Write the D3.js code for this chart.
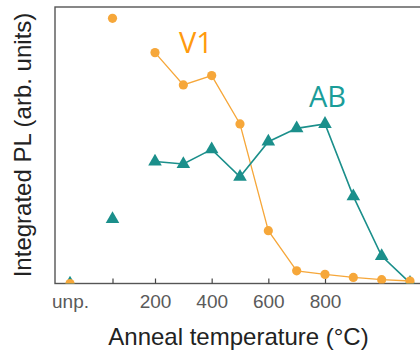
<!DOCTYPE html>
<html>
<head>
<meta charset="utf-8">
<script src="https://cdn.jsdelivr.net/npm/d3@7"></script>
<style>
  html, body { margin: 0; padding: 0; background: #fff; }
  svg { display: block; }
</style>
</head>
<body>
<svg id="chart" width="420" height="353"></svg>
<script>
// Anneal temperature (°C); "unp." (unprocessed) and the unlabeled as-implanted point sit left of 200
const temps = [-100, 50, 200, 300, 400, 500, 600, 700, 800, 900, 1000, 1100];
// Integrated PL (arb. units)
const v1Values = [0, 95.9, 83.5, 71.8, 75.2, 57.7, 19.1, 4.6, 3.3, 2.2, 1.4, 0.9];
const abValues = [0, 23.3, 44.1, 43.2, 48.5, 38.6, 51.3, 56.1, 57.7, 31.5, 9.9, 0.2];
// index from which the points are joined by a line
const lineStart = 2;
const tickValues = [-100, 50, 200, 400, 600, 800, 1000];
const tickLabels = ["unp.", "", "200", "400", "600", "800", ""];
const seriesNames = ["V1", "AB"];

const svg = d3.select("#chart");
const mLeft = 55, mTop = 7, mBottom = 283.5, mRight = 424;

const x = d3.scaleLinear().domain([-100, 1100]).range([70, 410]);
const y = d3.scaleLinear().domain([0, 100]).range([mBottom, mTop]);

const orange = "#f6a73a", orangeText = "#ff9a0e";
const teal = "#1b8f8b", tealText = "#1a9d99";

svg.append("defs").append("clipPath").attr("id", "clip")
  .append("rect").attr("x", mLeft).attr("y", 0).attr("width", mRight - mLeft).attr("height", mBottom);

// frame
svg.append("rect").attr("x", mLeft).attr("y", mTop).attr("width", mRight - mLeft).attr("height", mBottom - mTop)
  .attr("fill", "none").attr("stroke", "#555").attr("stroke-width", 1.4);

// x axis ticks (inward)
const xAxis = d3.axisBottom(x).tickValues(tickValues).tickSize(-5)
  .tickFormat((d, i) => tickLabels[i]);
const gx = svg.append("g").attr("transform", `translate(0,${mBottom})`).call(xAxis);
gx.select(".domain").remove();
gx.selectAll(".tick line").attr("stroke", "#444").attr("stroke-width", 1.2);
gx.selectAll(".tick text").attr("y", 24.5).attr("dy", 0)
  .attr("font-family", "Liberation Sans, Arial, sans-serif").attr("font-size", 19)
  .attr("fill", "#5a5a5a");

const plot = svg.append("g").attr("clip-path", "url(#clip)");

const pts = (vals) => temps.map((t, i) => ({ t, v: vals[i], i }));
const line = d3.line().x(d => x(d.t)).y(d => y(d.v));

// V1 series
const v1 = pts(v1Values);
plot.append("path").datum(v1.filter(d => d.i >= lineStart)).attr("d", line)
  .attr("fill", "none").attr("stroke", orange).attr("stroke-width", 1.3);

// AB series
const ab = pts(abValues);
plot.append("path").datum(ab.filter(d => d.i >= lineStart)).attr("d", line)
  .attr("fill", "none").attr("stroke", teal).attr("stroke-width", 1.6);

plot.selectAll(".tri").data(ab).enter().append("path")
  .attr("transform", d => `translate(${x(d.t)},${y(d.v)})`)
  .attr("d", d3.symbol().type(d3.symbolTriangle).size(80))
  .attr("fill", teal);

plot.selectAll(".dot").data(v1).enter().append("circle")
  .attr("cx", d => x(d.t)).attr("cy", d => y(d.v)).attr("r", 4.6)
  .attr("fill", orange);

// series labels
svg.append("text").attr("x", 179).attr("y", 53).text(seriesNames[0])
  .attr("font-family", "Open Sans, sans-serif").attr("font-size", 29).attr("fill", orangeText);
svg.append("text").attr("x", 309).attr("y", 107).text(seriesNames[1])
  .attr("font-family", "Open Sans, sans-serif").attr("font-size", 29).attr("fill", tealText);

// axis titles
svg.append("text").attr("x", 238.5).attr("y", 345).attr("text-anchor", "middle")
  .attr("font-family", "Liberation Sans, Arial, sans-serif").attr("font-size", 24)
  .attr("fill", "#222").text("Anneal temperature (°C)");
svg.append("text").attr("transform", "translate(31,145) rotate(-90)").attr("text-anchor", "middle")
  .attr("font-family", "Liberation Sans, Arial, sans-serif").attr("font-size", 24)
  .attr("fill", "#222").text("Integrated PL (arb. units)");
</script>
</body>
</html>
